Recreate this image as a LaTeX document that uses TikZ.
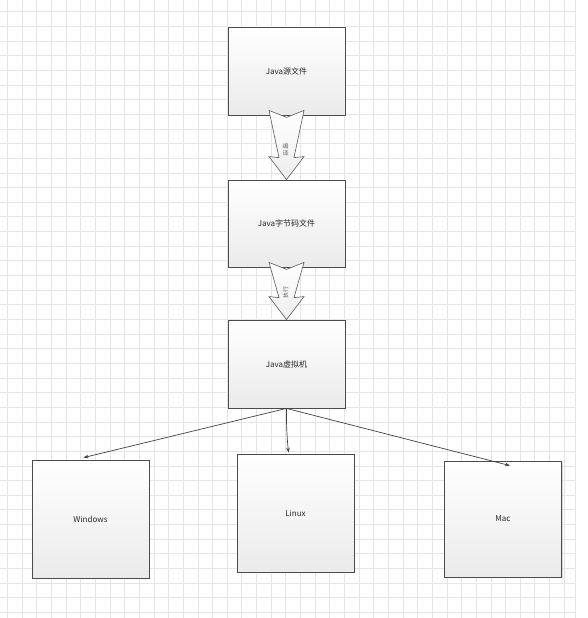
\documentclass[tikz,border=0pt]{standalone}
\usepackage{fontspec}
\setmainfont{Noto Sans CJK SC}
\usetikzlibrary{arrows.meta, shadows, calc}

\begin{document}
\begin{tikzpicture}[x=1pt, y=-1pt, >={Stealth[length=5pt, width=3.6pt]},
        box/.style={draw=black!70, line width=0.8pt, top color=white, bottom color=black!8,
                    minimum width=117pt, inner sep=0pt, font=\fontsize{8}{9}\selectfont, text=black!85,
                    drop shadow={shadow xshift=1.3pt, shadow yshift=-1.3pt, opacity=0.3}},
        bigarrow/.style={draw=black!65, line width=0.6pt, top color=white, bottom color=black!7},
        tag/.style={font=\fontsize{6}{7}\selectfont, text=black!60, inner sep=0pt},
        gridline/.style={black!10, line width=0.5pt}]
        \useasboundingbox (0,0) rectangle (588,618);

        % background grid
        \foreach \i in {0,...,38}
            \draw[gridline] (7.3+14.65*\i,0) -- (7.3+14.65*\i,618);
        \draw[gridline] (575,0) -- (575,618);
        \foreach \j in {0,...,41}
            \draw[gridline] (0,11.6+14.65*\j) -- (575,11.6+14.65*\j);

        \node[box, minimum height=88pt]  (src)   at (286.5,71)  {Java源文件};
        \node[box, minimum height=87pt]  (byte)  at (286.5,223.5) {Java字节码文件};
        \node[box, minimum height=88pt]  (jvm)   at (286.5,364) {Java虚拟机};
        \node[box, minimum height=118pt] (win)   at (90.5,519)  {Windows};
        \node[box, minimum height=118pt] (linux) at (295.5,513) {Linux};
        \node[box, minimum height=116pt] (mac)   at (503,519)   {Mac};

        \foreach \a/\b in {src/byte, byte/jvm}
            \draw[bigarrow] ($(\a.south)+(-17.5,-5)$) -- ($(\a.south)+(0,2)$) -- ($(\a.south)+(17.5,-5)$)
                -- ($(\b.north)+(7.5,-22)$) -- ($(\b.north)+(17.5,-23)$) -- (\b.north)
                -- ($(\b.north)+(-17.5,-23)$) -- ($(\b.north)+(-7.5,-22)$) -- cycle;

        \node[tag, align=center] (compile) at ($(src.south)!0.5!(byte.north)+(-1,2)$) {编\\译};
        \node[tag, rotate=90]    (run)     at ($(byte.south)!0.5!(jvm.north)+(-1,-1)$) {执行};

        \draw[->, black!75, line width=0.7pt] (jvm.south) -- ($(win.north)+(-7,-2)$);
        \draw[->, black!75, line width=0.7pt] (jvm.south) to[bend right=3] ($(linux.north)+(-7,-1)$);
        \draw[->, black!75, line width=0.7pt] (jvm.south) -- ($(mac.north)+(7,5)$);
    \end{tikzpicture}
\end{document}
